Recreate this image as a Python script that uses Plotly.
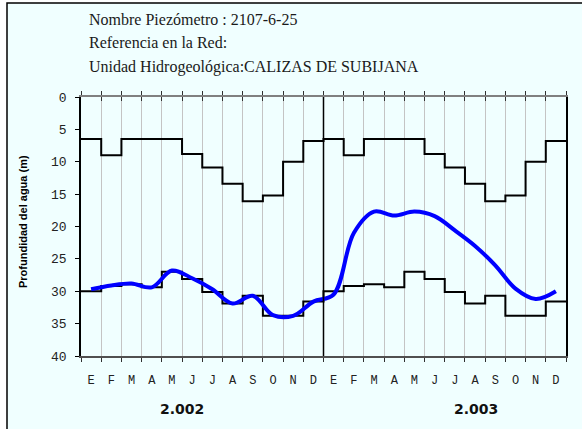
import plotly.graph_objects as go

# ---------------- data ----------------
MONTH_LETTERS = ["E", "F", "M", "A", "M", "J", "J", "A", "S", "O", "N", "D"]
YEAR_LABELS = ["2.002", "2.003"]

# upper step line (shallowest historic depth per month), Jan 2002 .. Dec 2003
step_min = [6.5, 9.0, 6.5, 6.5, 6.5, 8.8, 10.9, 13.4, 16.1, 15.2, 10.0, 6.8,
            6.5, 9.0, 6.5, 6.5, 6.5, 8.8, 10.9, 13.4, 16.1, 15.2, 10.0, 6.8]
# lower step line (deepest historic depth per month)
step_max = [30.0, 29.2, 28.9, 29.4, 27.0, 28.1, 30.1, 31.9, 30.7, 33.8, 33.8, 31.6,
            30.0, 29.2, 28.9, 29.4, 27.0, 28.1, 30.1, 31.9, 30.7, 33.8, 33.8, 31.6]
# measured depth (blue), one value per month
measured = [29.7, 29.1, 28.8, 29.4, 26.8, 28.0, 29.7, 31.9, 30.7, 33.7, 33.8, 31.6,
            30.5, 21.0, 17.7, 18.3, 17.7, 18.4, 20.6, 23.0, 26.0, 29.6, 31.2, 30.0]

HEADER = ["Nombre Piezómetro : 2107-6-25",
          "Referencia en la Red:",
          "Unidad Hidrogeológica:CALIZAS DE SUBIJANA"]
Y_TITLE = "Profundidad del agua (m)"
Y_TICKS = [0, 5, 10, 15, 20, 25, 30, 35, 40]

# ---------------- layout geometry ----------------
W, H = 582, 429
ML, MR, MT, MB = 81, 16, 97, 73
PW, PH = W - ML - MR, H - MT - MB


def px_x(p):
    return (p - ML) / PW


def px_y(p):
    return (H - MB - p) / PH


n = len(measured)
bounds = list(range(n + 1))
centers = [i + 0.5 for i in range(n)]
labels = MONTH_LETTERS * len(YEAR_LABELS)

fig = go.Figure()

fig.add_trace(go.Scatter(x=bounds, y=step_min + [step_min[-1]], mode="lines",
                         line=dict(color="black", width=2, shape="hv"),
                         hoverinfo="skip", showlegend=False))
fig.add_trace(go.Scatter(x=bounds, y=step_max + [step_max[-1]], mode="lines",
                         line=dict(color="black", width=2, shape="hv"),
                         hoverinfo="skip", showlegend=False))
fig.add_trace(go.Scatter(x=centers, y=measured, mode="lines",
                         line=dict(color="#0000FF", width=4, shape="spline", smoothing=1.0),
                         showlegend=False))

mono = "Liberation Mono, Courier New, monospace"

fig.update_layout(
    width=W, height=H,
    margin=dict(l=ML, r=MR, t=MT, b=MB),
    paper_bgcolor="white",
    plot_bgcolor="rgba(0,0,0,0)",
    xaxis=dict(
        range=[0, n], tickmode="array", tickvals=centers, ticktext=labels,
        ticks="", showgrid=False, zeroline=False,
        showline=True, linecolor="#505050", linewidth=1.5,
        tickfont=dict(family=mono, size=12, color="#222222"),
        ticklabelstandoff=12,
        minor=dict(tickmode="array", tickvals=bounds, ticks="outside", ticklen=4,
                   tickcolor="#303030", showgrid=True, gridcolor="#C4C4C4", gridwidth=1),
    ),
    xaxis2=dict(
        range=[0, n], overlaying="x", side="top", tickmode="array", tickvals=bounds,
        ticks="outside", ticklen=4, tickcolor="#303030", showticklabels=False,
        showgrid=False, zeroline=False, showline=True, linecolor="#808080", linewidth=1.5,
    ),
    xaxis3=dict(
        range=[0, n], overlaying="x", side="top", tickmode="array", tickvals=bounds,
        ticks="inside", ticklen=4, tickcolor="#303030", showticklabels=False,
        showgrid=False, zeroline=False, showline=False,
    ),
    yaxis=dict(
        range=[40, 0], tickmode="array", tickvals=Y_TICKS, ticks="outside", ticklen=4,
        tickcolor="black", showline=True, linecolor="black", linewidth=1.5, mirror=True,
        showgrid=False, zeroline=False,
        tickfont=dict(family=mono, size=13, color="#222222"),
        ticklabelstandoff=6,
    ),
)

# empty traces so the top axes are drawn
fig.add_trace(go.Scatter(x=[], y=[], xaxis="x2", showlegend=False))
fig.add_trace(go.Scatter(x=[], y=[], xaxis="x3", showlegend=False))

# frame / background
fig.add_shape(type="rect", xref="paper", yref="paper",
              x0=px_x(7), y0=px_y(H + 10), x1=px_x(W + 10), y1=px_y(3),
              fillcolor="#F0FFFF", line=dict(color="black", width=1.5), layer="below")

# year separator
fig.add_shape(type="line", xref="x", yref="y",
              x0=len(MONTH_LETTERS), x1=len(MONTH_LETTERS), y0=0, y1=40,
              line=dict(color="black", width=1.5))

# header text
for i, (txt, py) in enumerate(zip(HEADER, [19.5, 43, 67])):
    fig.add_annotation(text=txt, xref="paper", yref="paper", x=px_x(87), y=px_y(py),
                       xanchor="left", yanchor="middle", showarrow=False,
                       font=dict(family="Liberation Serif, Times New Roman, serif",
                                 size=16, color="#1a1a1a"))

# y title
fig.add_annotation(text="<b>" + Y_TITLE + "</b>", xref="paper", yref="paper",
                   x=px_x(23), y=px_y(222), textangle=-90, showarrow=False,
                   xanchor="center", yanchor="middle",
                   font=dict(family="Liberation Sans, Arial, sans-serif", size=11, color="black"))

# year labels
for lab, xc in zip(YEAR_LABELS, [4.98, 19.55]):
    fig.add_annotation(text="<b>" + lab + "</b>", xref="x", yref="paper",
                       x=xc, y=px_y(409), showarrow=False, xanchor="center", yanchor="middle",
                       font=dict(family="DejaVu Sans, Verdana, sans-serif", size=14, color="#111111"))

fig.write_html("out.html", config={"displayModeBar": False},
               post_script="document.body.style.margin='0';document.body.style.overflow='hidden';")
